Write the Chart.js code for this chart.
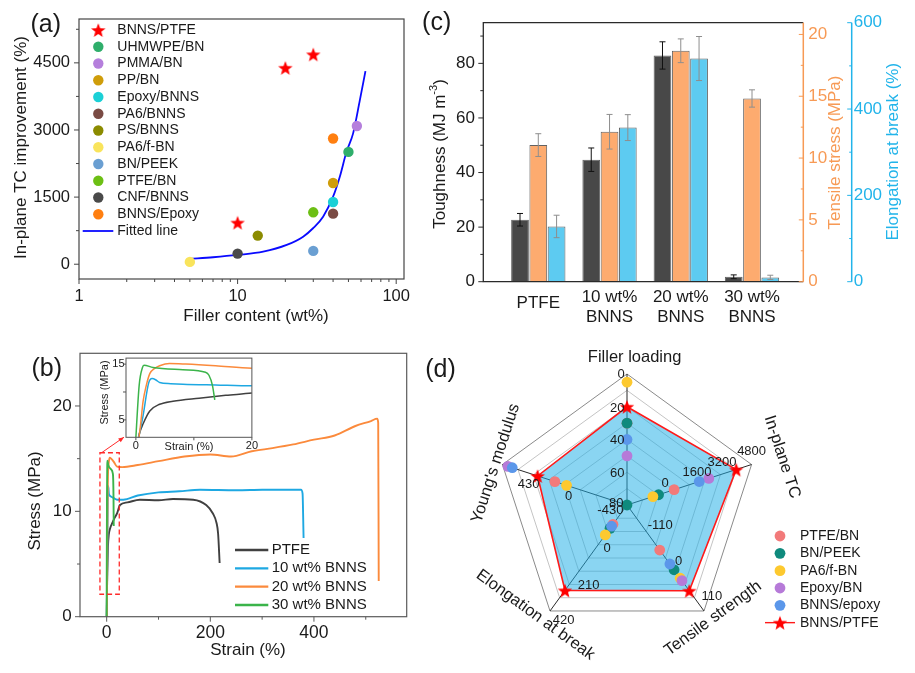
<!DOCTYPE html>
<html>
<head>
<meta charset="utf-8">
<title>BNNS/PTFE figure</title>
<script src="https://cdn.jsdelivr.net/npm/chart.js@4.4.1/dist/chart.umd.min.js"></script>
<style>
  html, body { margin: 0; padding: 0; background: #fff; }
  #fig { position: relative; width: 915px; height: 673px; overflow: hidden; background: #fff; }
  #fig canvas { position: absolute; }
</style>
</head>
<body>
<div id="fig">
  <canvas id="chart-a" width="420" height="330" style="left:0;top:0"></canvas>
  <canvas id="chart-c" width="495" height="330" style="left:420px;top:0"></canvas>
  <canvas id="chart-b" width="420" height="353" style="left:0;top:320px"></canvas>
  <canvas id="chart-b-inset" width="165" height="105" style="left:95px;top:350px"></canvas>
  <canvas id="chart-d" width="495" height="353" style="left:420px;top:320px"></canvas>
</div>
<script>
// ── data ────────────────────────────────────────────────────────────────
// (a) in-plane TC improvement vs filler content
const aGroups = ["BNNS/PTFE", "UHMWPE/BN", "PMMA/BN", "PP/BN", "Epoxy/BNNS", "PA6/BNNS",
  "PS/BNNS", "PA6/f-BN", "BN/PEEK", "PTFE/BN", "CNF/BNNS", "BNNS/Epoxy"];
const aFiller = [[10, 20, 30], [50], [56.5], [40], [40], [40], [13.4], [5], [30], [30], [10], [40]];
const aTC = [[930, 4390, 4690], [2510], [3090], [1815], [1390], [1130], [640], [52], [298], [1160], [238], [2810]];
const fitFiller = [5, 7, 10, 14.5, 20.4, 25.9, 29.9, 34.6, 40, 44.1, 48.6, 53.5, 59, 64];
const fitTC = [118, 156, 208, 281, 431, 616, 804, 1063, 1509, 1955, 2513, 2924, 3667, 4315];
const aTicksX = [1, 10, 100];
const aMinorX = [2, 3, 4, 5, 6, 7, 8, 9, 20, 30, 40, 50, 60, 70, 80, 90];
const aTicksY = [0, 1500, 3000, 4500];
const aMinorY = [750, 2250, 3750, 5250];

// (b) stress-strain curves
const bSamples = ["PTFE", "10 wt% BNNS", "20 wt% BNNS", "30 wt% BNNS"];
const strainPTFE = [0.1, 0.6, 1.25, 2.4, 4.1, 6.4, 10.9, 15.5, 20, 25.6, 40, 64, 100, 128, 167, 192, 205, 212, 215, 218];
const stressPTFE = [0, 2.5, 4.3, 6.6, 7.8, 8.35, 8.9, 9.4, 9.8, 10.6, 10.85, 11.1, 11.05, 11.17, 11.1, 10.6, 9.8, 8.9, 7.9, 5.1];
const strain10 = [0.1, 1.2, 2.2, 2.8, 3.4, 4.1, 6, 8.1, 13.75, 20, 32, 60, 100, 140, 180, 250, 300, 375, 378, 380];
const stress10 = [0, 5.5, 11.6, 12.4, 12.2, 11.7, 11.5, 11.4, 11.25, 11.1, 11.1, 11.5, 11.8, 11.9, 12.05, 12.0, 12.05, 12.06, 11.7, 7.46];
const strain20 = [0.3, 0.8, 1.25, 1.8, 2.4, 3.2, 4.1, 5.8, 8.6, 13.75, 20, 30, 60, 100, 150, 200, 240, 280, 320, 360, 400, 440, 480, 510, 522, 524, 525];
const stress20 = [0, 4, 8.35, 11.2, 13.3, 14.2, 14.7, 15.1, 15.0, 14.7, 14.25, 14.2, 14.4, 14.76, 15.2, 15.4, 15.2, 15.7, 16.0, 16.35, 16.8, 17.2, 18.1, 18.57, 18.8, 18.4, 3.4];
const strain30 = [-0.1, 0.57, 1.14, 1.4, 2.95, 8.1, 12, 12.6, 13.2, 13.6];
const stress30 = [0, 11.2, 14.4, 14.8, 14.4, 14.0, 13.55, 13.0, 11.2, 8.6];
const bTicksX = [0, 200, 400];
const bMinorX = [100, 300, 500];
const bTicksY = [0, 10, 20];
const bMinorY = [5, 15];
const insetTicksX = [0, 20];
const insetTicksY = [5, 15];
const zoomBoxStrain = [-13, 24.3];
const zoomBoxStress = [2.13, 15.56];
const arrowStrain = [-9.6, 33.4];
const arrowStress = [15.57, 17.04];

// (c) toughness / tensile stress / elongation
const cGroups = [["PTFE"], ["10 wt%", "BNNS"], ["20 wt%", "BNNS"], ["30 wt%", "BNNS"]];
const toughness = [22.7, 44.7, 82.9, 1.8];
const toughnessErr = [2.3, 4.3, 5.0, 0.7];
const tensile = [11.05, 12.13, 18.68, 14.82];
const tensileErr = [0.92, 1.4, 0.96, 0.7];
const elongation = [128, 357, 517, 10];
const elongationErr = [26, 30, 51, 5];
const cTicksL = [0, 20, 40, 60, 80];
const cMinorL = [10, 30, 50, 70, 90];
const cTicksT = [0, 5, 10, 15, 20];
const cMinorT = [2.5, 7.5, 12.5, 17.5];
const cTicksE = [0, 200, 400, 600];
const cMinorE = [100, 300, 500];

// (d) radar
const radarAxes = ["Filler loading", "In-plane TC", "Tensile strength", "Elongation at break", "Young's modulus"];
const radarInner = [80, -1600, -220, -420, -860]; // value at centre
const radarOuter = [0, 4800, 220, 420, 860];      // value at outer ring
const radarGroups = ["PTFE/BN", "BN/PEEK", "PA6/f-BN", "Epoxy/BN", "BNNS/epoxy", "BNNS/PTFE"];
const radarValues = [
  [30, 820, -33, -267, 136],
  [30, 20, 49, -235, -860],
  [5, -270, 84, -183, -25],
  [50, 2600, 94, null, 784],
  [40, 2110, 25, -252, 724],
  [20, 4010, 136, 257, 374],
];
const radarTickLevels = [[0, 1], [0, 0.75], [0, 0.5], [0, 0.25], [0, 0],
  [1, 0.25], [1, 0.5], [1, 0.75], [1, 1],
  [2, 0.25], [2, 0.5], [2, 0.75],
  [3, 0.5], [3, 0.75], [3, 1],
  [4, 0.25], [4, 0.5], [4, 0.75]];

// ── style ───────────────────────────────────────────────────────────────
const FONT = "'Liberation Sans', Arial, Helvetica, sans-serif";
const INK = "#1a1a1a";
const A_COLORS = ["#ff0000", "#2fae6b", "#b57fdc", "#cf9d0a", "#1bd0d6", "#7a4b44",
  "#8b8b00", "#f9e45c", "#6a9fd2", "#6cbf14", "#4a4a4a", "#ff7f10"];
const B_COLORS = ["#404040", "#1ea8e2", "#fb8a3c", "#3bb44a"];
const ORANGE = "#f79a55", BLUE = "#22b4ea";
const D_COLORS = ["#f27a7a", "#0f8a7d", "#fdc92f", "#b67ad8", "#5b97ea"];
// radar tick label nudges (px), same order as radarTickLevels
const RADAR_TICK_NUDGE = [[-6, 0], [-9.7, 1.5], [-9.7, 0.5], [-9.7, 1], [-10.7, -2],
  [7, -11.6], [7.7, -12], [1.6, -12], [0, -13],
  [14, -6.5], [13, 3], [27, 11.5],
  [18.5, -9.7], [19.4, 0.5], [13.6, 9],
  [14.5, 15.8], [4, 12], [-5, 9.4]];
// axis title: distance from centre, rotation, nudge
const RADAR_TITLE = [[148, 0, 7.6, 0], [162, 72, 1, 2], [142, -36, 2.5, -1.6], [143, 36, -7.6, -5.7], [138, -72, 0, 1]];

Chart.defaults.font.family = FONT;
Chart.defaults.color = INK;
Chart.defaults.animation = false;
Chart.defaults.responsive = false;
Chart.defaults.plugins.legend.display = false;
Chart.defaults.plugins.tooltip.enabled = false;

const STAR = makeStar(7.6, "#ff0000");

function makeStar(r, color) {
  const c = document.createElement("canvas");
  c.width = c.height = Math.ceil(r * 2 + 2);
  const g = c.getContext("2d");
  g.translate(c.width / 2, c.height / 2 + r * 0.1);
  g.beginPath();
  for (let i = 0; i < 10; i++) {
    const rad = i % 2 ? r * 0.42 : r;
    const ang = -Math.PI / 2 + i * Math.PI / 5;
    g.lineTo(rad * Math.cos(ang), rad * Math.sin(ang));
  }
  g.closePath();
  g.fillStyle = color;
  g.fill();
  return c;
}

function axis(o) {
  return {
    type: o.type || "linear", position: o.position, min: o.min, max: o.max, offset: false,
    weight: o.weight || 0,
    afterFit: s => { if (o.width != null) s.width = o.width; if (o.height != null) s.height = o.height; },
    afterBuildTicks: s => { s.ticks = o.ticks.map(v => ({ value: v })); },
    grid: { display: false, drawTicks: false },
    border: { display: false },
    ticks: {
      display: o.labels !== false, autoSkip: false, maxRotation: 0, minRotation: 0,
      padding: o.pad || 0, color: o.color || INK, font: { size: o.size || 16 },
      callback: v => String(v),
    },
  };
}

function text(ctx, s, x, y, size, o = {}) {
  ctx.save();
  ctx.translate(x, y);
  if (o.rot) ctx.rotate(o.rot * Math.PI / 180);
  ctx.font = `${size}px ${FONT}`;
  ctx.fillStyle = o.color || INK;
  ctx.textAlign = o.align || "center";
  ctx.textBaseline = "middle";
  ctx.fillText(s, 0, 0);
  ctx.restore();
}

function tickMarks(ctx, scale, values, len, edge, dir) {
  ctx.beginPath();
  values.forEach(v => {
    const p = scale.getPixelForValue(v);
    if (scale.isHorizontal()) { ctx.moveTo(p, edge); ctx.lineTo(p, edge + dir * len); }
    else { ctx.moveTo(edge, p); ctx.lineTo(edge + dir * len, p); }
  });
  ctx.stroke();
}

function mark(ctx, x, y, style, color, r) {
  if (style === STAR) { ctx.drawImage(STAR, x - STAR.width / 2, y - STAR.height / 2); return; }
  ctx.beginPath();
  ctx.arc(x, y, r, 0, Math.PI * 2);
  ctx.fillStyle = color;
  ctx.fill();
}

function hline(ctx, x0, x1, y, color, w) {
  ctx.beginPath();
  ctx.moveTo(x0, y); ctx.lineTo(x1, y);
  ctx.strokeStyle = color; ctx.lineWidth = w; ctx.stroke();
}

const pts = (xs, ys) => xs.map((x, i) => ({ x, y: ys[i] }));

// ── (a) ─────────────────────────────────────────────────────────────────
const aDatasets = aGroups.map((g, i) => ({
  type: "scatter", label: g, order: 1,
  data: pts(aFiller[i], aTC[i]),
  backgroundColor: A_COLORS[i], borderColor: A_COLORS[i], borderWidth: 0,
  pointStyle: i === 0 ? STAR : "circle", pointRadius: 5.2,
}));
aDatasets.push({
  type: "line", label: "Fitted line", order: 5, showLine: true,
  data: pts(fitFiller, fitTC), borderColor: "#0a0aff", borderWidth: 1.8,
  pointRadius: 0, cubicInterpolationMode: "monotone", fill: false,
});

const decoA = {
  id: "decoA",
  afterDraw(chart) {
    const { ctx, chartArea: a, scales: { x, y } } = chart;
    ctx.save();
    ctx.strokeStyle = "#454545"; ctx.lineWidth = 1.2;
    ctx.strokeRect(a.left, a.top, a.width, a.height);
    ctx.lineWidth = 1;
    tickMarks(ctx, x, aTicksX, 5, a.bottom, 1);
    tickMarks(ctx, x, aMinorX, 3, a.bottom, 1);
    tickMarks(ctx, y, aTicksY, 5, a.left, -1);
    tickMarks(ctx, y, aMinorY, 3, a.left, -1);
    chart.data.datasets.forEach((d, i) => {
      const ly = 30 + i * 16.75;
      if (d.showLine) hline(ctx, 82.7, 113.3, ly, d.borderColor, 1.8);
      else mark(ctx, 98.3, ly, d.pointStyle, d.backgroundColor, 5.2);
      text(ctx, d.label, 117.3, ly, 14, { align: "left" });
    });
    text(ctx, "(a)", 45.8, 25, 25);
    text(ctx, "In-plane TC improvement (%)", 21.7, 147.5, 17, { rot: -90 });
    text(ctx, "Filler content (wt%)", 256, 316, 17);
    ctx.restore();
  },
};

new Chart(document.getElementById("chart-a"), {
  type: "scatter",
  data: { datasets: aDatasets },
  options: {
    layout: { padding: { top: 19, right: 16, left: 0, bottom: 0 } },
    scales: {
      x: axis({ type: "logarithmic", position: "bottom", min: 1, max: 112, ticks: aTicksX, height: 51, pad: 8, size: 16.5 }),
      y: axis({ position: "left", min: -330, max: 5480, ticks: aTicksY, width: 79, pad: 9, size: 16.5 }),
    },
  },
  plugins: [decoA],
});

// ── (b) ─────────────────────────────────────────────────────────────────
const bCurves = [pts(strainPTFE, stressPTFE), pts(strain10, stress10), pts(strain20, stress20), pts(strain30, stress30)];
const bDatasets = w => bSamples.map((s, i) => ({
  label: s, data: bCurves[i], order: 3 - i,
  borderColor: B_COLORS[i], borderWidth: w, pointRadius: 0,
  cubicInterpolationMode: "monotone", fill: false,
}));

const decoB = {
  id: "decoB",
  afterDraw(chart) {
    const { ctx, chartArea: a, scales: { x, y } } = chart;
    ctx.save();
    ctx.strokeStyle = "#5a5a5a"; ctx.lineWidth = 1.2;
    ctx.strokeRect(a.left, a.top, a.width, a.height);
    ctx.lineWidth = 1;
    tickMarks(ctx, x, bTicksX, 5, a.bottom, 1);
    tickMarks(ctx, x, bMinorX, 3, a.bottom, 1);
    tickMarks(ctx, y, bTicksY, 5, a.left, -1);
    tickMarks(ctx, y, bMinorY, 3, a.left, -1);

    // dashed zoom box + arrow to inset
    const bx0 = x.getPixelForValue(zoomBoxStrain[0]), bx1 = x.getPixelForValue(zoomBoxStrain[1]);
    const by0 = y.getPixelForValue(zoomBoxStress[1]), by1 = y.getPixelForValue(zoomBoxStress[0]);
    ctx.strokeStyle = "#ff2a2a"; ctx.lineWidth = 1.3;
    ctx.setLineDash([5, 3]);
    ctx.strokeRect(bx0, by0, bx1 - bx0, by1 - by0);
    ctx.setLineDash([]);
    const p0 = { x: x.getPixelForValue(arrowStrain[0]), y: y.getPixelForValue(arrowStress[0]) };
    const p1 = { x: x.getPixelForValue(arrowStrain[1]), y: y.getPixelForValue(arrowStress[1]) };
    const ang = Math.atan2(p1.y - p0.y, p1.x - p0.x);
    ctx.lineWidth = 1;
    ctx.beginPath(); ctx.moveTo(p0.x, p0.y); ctx.lineTo(p1.x, p1.y); ctx.stroke();
    ctx.beginPath();
    ctx.moveTo(p1.x, p1.y);
    ctx.lineTo(p1.x - 6 * Math.cos(ang - 0.4), p1.y - 6 * Math.sin(ang - 0.4));
    ctx.lineTo(p1.x - 6 * Math.cos(ang + 0.4), p1.y - 6 * Math.sin(ang + 0.4));
    ctx.closePath(); ctx.fillStyle = "#ff2a2a"; ctx.fill();

    chart.data.datasets.forEach((d, i) => {
      const ly = 230 + i * 18.33;
      hline(ctx, 235, 268.3, ly, d.borderColor, 2.4);
      text(ctx, d.label, 271.7, ly, 15, { align: "left" });
    });
    text(ctx, "(b)", 46.7, 49, 25);
    text(ctx, "Stress (MPa)", 35, 181, 17, { rot: -90 });
    text(ctx, "Strain (%)", 248, 330, 17);
    ctx.restore();
  },
};

new Chart(document.getElementById("chart-b"), {
  type: "line",
  data: { datasets: bDatasets(1.9) },
  options: {
    layout: { padding: { top: 33.3, right: 13.3, left: 0, bottom: 0 } },
    scales: {
      x: axis({ position: "bottom", min: -51.5, max: 579, ticks: bTicksX, height: 56.3, pad: 6, size: 17.5 }),
      y: axis({ position: "left", min: 0, max: 25, ticks: bTicksY, width: 80, pad: 8.3, size: 17 }),
    },
  },
  plugins: [decoB],
});

const decoInset = {
  id: "decoInset",
  beforeDraw(chart) {
    const { ctx, chartArea: a } = chart;
    ctx.save();
    ctx.fillStyle = "#fff";
    ctx.fillRect(a.left, a.top, a.width, a.height);
    ctx.restore();
  },
  afterDraw(chart) {
    const { ctx, chartArea: a, scales: { x, y } } = chart;
    ctx.save();
    ctx.strokeStyle = "#555"; ctx.lineWidth = 1;
    ctx.strokeRect(a.left, a.top, a.width, a.height);
    tickMarks(ctx, x, [0, 10, 20], 3, a.bottom, 1);
    tickMarks(ctx, y, [5, 10, 15], 3, a.left, -1);
    text(ctx, "Stress (MPa)", 10, 42.5, 11, { rot: -90 });
    text(ctx, "Strain (%)", 94, 97, 11);
    ctx.restore();
  },
};

new Chart(document.getElementById("chart-b-inset"), {
  type: "line",
  data: { datasets: bDatasets(1.5) },
  options: {
    layout: { padding: { top: 5.5, right: 6.7, left: 0, bottom: 0 } },
    scales: {
      x: axis({ position: "bottom", min: -1.7, max: 20, ticks: insetTicksX, height: 17.7, pad: 2, size: 11 }),
      y: axis({ position: "left", min: 1.875, max: 16.08, ticks: insetTicksY, width: 31, pad: 1.5, size: 11 }),
    },
  },
  plugins: [decoInset],
});

// ── (c) ─────────────────────────────────────────────────────────────────
const cSeries = [
  { label: "Toughness", data: toughness, err: toughnessErr, axis: "y", fill: "#484848", errColor: "#111" },
  { label: "Tensile stress", data: tensile, err: tensileErr, axis: "y1", fill: "#fdab6f", errColor: "#8e8e8e" },
  { label: "Elongation at break", data: elongation, err: elongationErr, axis: "y2", fill: "#5dcbf1", errColor: "#8e8e8e" },
];

const decoC = {
  id: "decoC",
  afterDraw(chart) {
    const { ctx, chartArea: a, scales } = chart;
    ctx.save();
    // error bars
    cSeries.forEach((s, di) => {
      const sc = scales[s.axis];
      chart.getDatasetMeta(di).data.forEach((bar, j) => {
        const yt = sc.getPixelForValue(s.data[j] + s.err[j]);
        const yb = sc.getPixelForValue(s.data[j] - s.err[j]);
        ctx.strokeStyle = s.errColor; ctx.lineWidth = 1;
        ctx.beginPath();
        ctx.moveTo(bar.x, yt); ctx.lineTo(bar.x, yb);
        ctx.moveTo(bar.x - 3, yt); ctx.lineTo(bar.x + 3, yt);
        ctx.moveTo(bar.x - 3, yb); ctx.lineTo(bar.x + 3, yb);
        ctx.stroke();
      });
    });
    // frame
    ctx.strokeStyle = "#2a2a2a"; ctx.lineWidth = 1.3;
    ctx.beginPath();
    ctx.moveTo(a.right, a.top); ctx.lineTo(a.left, a.top); ctx.lineTo(a.left, a.bottom); ctx.lineTo(a.right, a.bottom);
    ctx.stroke();
    ctx.lineWidth = 1;
    tickMarks(ctx, scales.y, cTicksL, 5, a.left, -1);
    tickMarks(ctx, scales.y, cMinorL, 3, a.left, -1);
    ctx.strokeStyle = ORANGE; ctx.lineWidth = 1.5;
    ctx.beginPath(); ctx.moveTo(a.right, a.top); ctx.lineTo(a.right, a.bottom); ctx.stroke();
    ctx.lineWidth = 1;
    tickMarks(ctx, scales.y1, cTicksT, 4.5, a.right, -1);
    tickMarks(ctx, scales.y1, cMinorT, 2.5, a.right, -1);
    const ex = scales.y2.left;
    ctx.strokeStyle = BLUE; ctx.lineWidth = 1.5;
    ctx.beginPath(); ctx.moveTo(ex, a.top); ctx.lineTo(ex, a.bottom); ctx.stroke();
    ctx.lineWidth = 1;
    tickMarks(ctx, scales.y2, cTicksE, 4.5, ex, -1);
    tickMarks(ctx, scales.y2, cMinorE, 2.5, ex, -1);
    // category labels
    cGroups.forEach((lines, i) => {
      const cx = scales.x.getPixelForValue(i);
      if (lines.length === 1) text(ctx, lines[0], cx, 303.5, 17);
      else lines.forEach((l, k) => text(ctx, l, cx, 297.7 + k * 19.5, 17));
    });
    // titles
    ctx.save();
    ctx.translate(20, 154);
    ctx.rotate(-Math.PI / 2);
    ctx.fillStyle = INK; ctx.textBaseline = "middle"; ctx.textAlign = "left";
    const big = `17px ${FONT}`, small = `11px ${FONT}`;
    ctx.font = big; const w1 = ctx.measureText("Toughness (MJ m").width, w3 = ctx.measureText(")").width;
    ctx.font = small; const w2 = ctx.measureText("-3").width;
    let px = -(w1 + w2 + w3) / 2;
    ctx.font = big; ctx.fillText("Toughness (MJ m", px, 0); px += w1;
    ctx.font = small; ctx.fillText("-3", px, -6); px += w2;
    ctx.font = big; ctx.fillText(")", px, 0);
    ctx.restore();
    text(ctx, "Tensile stress (MPa)", 415, 152.5, 17, { rot: -90, color: ORANGE });
    text(ctx, "Elongation at break (%)", 473.3, 151.7, 17, { rot: -90, color: BLUE });
    text(ctx, "(c)", 16.7, 23.3, 25);
    ctx.restore();
  },
};

new Chart(document.getElementById("chart-c"), {
  type: "bar",
  data: {
    datasets: cSeries.map(s => ({
      label: s.label, yAxisID: s.axis,
      data: s.data.map((v, i) => ({ x: i, y: v })),
      backgroundColor: s.fill, borderColor: "rgba(45,45,45,0.75)", borderWidth: 1,
      categoryPercentage: 0.77, barPercentage: 0.97,
    })),
  },
  options: {
    layout: { padding: { top: 22.7, right: 0, left: 0, bottom: 0 } },
    scales: {
      x: axis({ position: "bottom", min: -0.772, max: 3.72, ticks: [0, 1, 2, 3], height: 48.3, labels: false }),
      y: axis({ position: "left", min: 0, max: 94.9, ticks: cTicksL, width: 63.3, pad: 8.3, size: 17 }),
      y1: axis({ position: "right", min: 0, max: 20.95, ticks: cTicksT, width: 48.4, pad: 5, size: 17, color: ORANGE, weight: 0 }),
      y2: axis({ position: "right", min: 0, max: 600, ticks: cTicksE, width: 63.3, pad: 2, size: 17, color: BLUE, weight: 1 }),
    },
  },
  plugins: [decoC],
});

// ── (d) ─────────────────────────────────────────────────────────────────
const toLevel = (v, k) => v == null ? null : (v - radarInner[k]) / (radarOuter[k] - radarInner[k]);

const dDatasets = radarGroups.map((g, i) => {
  const data = radarValues[i].map(toLevel);
  if (g === "BNNS/PTFE") {
    return {
      label: g, data, order: 20, fill: true,
      borderColor: "#ff1a1a", borderWidth: 1.6, backgroundColor: "rgba(30,175,230,0.52)",
      pointStyle: STAR, pointRadius: 7,
    };
  }
  return {
    label: g, data, order: 10 - i, showLine: false, fill: false,
    pointStyle: "circle", pointRadius: 5.4, pointBorderWidth: 0,
    pointBackgroundColor: D_COLORS[i], backgroundColor: D_COLORS[i], borderColor: D_COLORS[i],
  };
});

const decoD = {
  id: "decoD",
  afterDraw(chart) {
    const { ctx } = chart;
    const r = chart.scales.r;
    ctx.save();
    radarTickLevels.forEach(([k, lv], i) => {
      const p = r.getPointPosition(k, r.getDistanceFromCenterForValue(lv));
      const v = Math.round(radarInner[k] + lv * (radarOuter[k] - radarInner[k]));
      text(ctx, String(v), p.x + RADAR_TICK_NUDGE[i][0], p.y + RADAR_TICK_NUDGE[i][1], 13);
    });
    radarAxes.forEach((name, k) => {
      const [dist, rot, dx, dy] = RADAR_TITLE[k];
      const p = r.getPointPosition(k, dist);
      text(ctx, name, p.x + dx, p.y + dy, 16.5, { rot });
    });
    chart.data.datasets.forEach((d, i) => {
      const ly = 216 + i * 17.33;
      if (d.pointStyle === STAR) hline(ctx, 345, 375, ly, d.borderColor, 1.4);
      mark(ctx, 360, ly, d.pointStyle, d.backgroundColor, 5.4);
      text(ctx, d.label, 380, ly, 14, { align: "left" });
    });
    text(ctx, "(d)", 20.5, 50, 25);
    ctx.restore();
  },
};

new Chart(document.getElementById("chart-d"), {
  type: "radar",
  data: { labels: radarAxes, datasets: dDatasets },
  options: {
    layout: { padding: { left: 76, top: 54, right: 157, bottom: 37 } },
    elements: { line: { tension: 0 } },
    scales: {
      r: {
        min: 0, max: 1,
        ticks: { display: false, stepSize: 0.125 },
        pointLabels: { display: false },
        grid: { color: c => (c.tick && c.tick.value >= 1 ? "#8a8a8a" : "#c4c4c4"), lineWidth: 1 },
        angleLines: { color: "#2a2a2a", lineWidth: 1 },
      },
    },
  },
  plugins: [decoD],
});
</script>
</body>
</html>
